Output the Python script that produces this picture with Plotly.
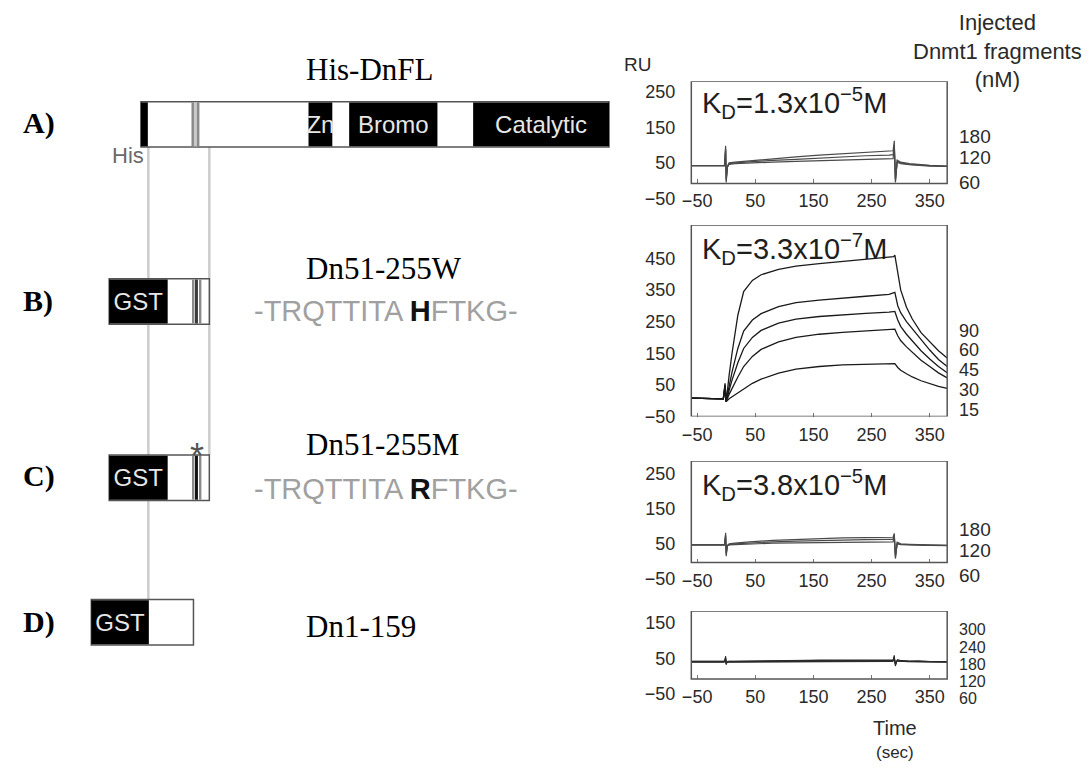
import plotly.graph_objects as go

W, H = 1090, 770
SANS = "Liberation Sans, Arial, Helvetica, sans-serif"
SERIF = "Liberation Serif, Times New Roman, serif"

# ---------------- SPR sensorgram data (RU vs time, s) ----------------
X_TICKS = [-50, 50, 150, 250, 350]

A_TIME = [-60, -20, -3, -1, 0, 2, 5, 15, 40, 80, 120, 160, 200, 240, 280, 287, 289, 291, 294, 300, 315, 330, 350, 380]
A_180 = [42, 42, 42, 98, -5, 40, 50, 52, 56, 62, 67, 72, 76, 80, 83, 84, 112, -5, 58, 52, 48, 45, 43, 41]
A_120 = [42, 42, 42, 90, 0, 38, 48, 50, 53, 57, 60, 64, 67, 70, 72, 73, 100, 0, 55, 50, 46, 44, 42, 40]
A_60 = [42, 42, 42, 85, 5, 38, 46, 48, 50, 52, 54, 56, 58, 60, 61, 62, 95, 5, 52, 48, 45, 43, 41, 40]
A_CONC = ["180", "120", "60"]

B_TIME = [-60, -30, -5, -2, 0, 5, 10, 20, 30, 45, 60, 90, 120, 160, 200, 240, 280, 288, 290, 295, 300, 310, 320, 335, 350, 365, 380]
B_90 = [8, 7, 6, 55, -3, 80, 150, 270, 345, 380, 398, 415, 425, 433, 440, 446, 452, 455, 460, 400, 350, 295, 258, 215, 185, 158, 135]
B_60 = [8, 7, 6, 50, -3, 45, 90, 165, 220, 255, 275, 297, 310, 318, 325, 330, 336, 340, 342, 300, 278, 250, 228, 192, 160, 130, 108]
B_45 = [8, 7, 6, 45, -3, 33, 65, 120, 165, 200, 222, 245, 258, 266, 272, 276, 280, 281, 282, 255, 235, 210, 188, 158, 132, 108, 88]
B_30 = [8, 7, 6, 40, -3, 20, 40, 75, 108, 140, 162, 186, 200, 210, 216, 220, 224, 225, 226, 205, 190, 170, 152, 128, 108, 88, 72]
B_15 = [8, 7, 6, 35, -3, 6, 12, 25, 38, 55, 68, 87, 100, 108, 113, 115, 116, 117, 117, 105, 96, 85, 75, 63, 53, 45, 39]
B_CONC = ["90", "60", "45", "30", "15"]

C_TIME = A_TIME
C_180 = [47, 47, 47, 82, 15, 45, 50, 52, 56, 60, 63, 65, 67, 68, 69, 69, 80, 8, 55, 50, 49, 48, 47, 46]
C_120 = [47, 47, 47, 75, 20, 45, 48, 50, 53, 56, 58, 60, 61, 62, 63, 63, 75, 12, 52, 49, 48, 47, 46, 46]
C_60 = [47, 47, 47, 70, 25, 45, 47, 48, 50, 52, 53, 54, 55, 56, 56, 56, 70, 18, 50, 48, 47, 46, 46, 45]
C_CONC = ["180", "120", "60"]

D_TIME = A_TIME
D_300 = [42, 42, 42, 56, 32, 41, 42, 42, 42, 43, 44, 45, 45, 45, 45, 45, 58, 28, 46, 44, 42, 43, 41, 41]
D_240 = [41, 41, 41, 52, 34, 40, 41, 41, 41, 42, 43, 44, 44, 44, 44, 44, 54, 30, 45, 43, 42, 42, 41, 40]
D_180 = [40, 40, 40, 50, 35, 40, 40, 40, 41, 41, 42, 43, 43, 43, 43, 43, 52, 32, 44, 42, 41, 41, 40, 40]
D_120 = [40, 40, 40, 48, 36, 39, 40, 40, 40, 41, 41, 42, 42, 42, 42, 42, 50, 34, 43, 41, 41, 40, 40, 40]
D_60 = [39, 39, 39, 46, 37, 39, 39, 39, 40, 40, 40, 41, 41, 41, 41, 41, 48, 35, 42, 41, 40, 40, 39, 39]
D_CONC = ["300", "240", "180", "120", "60"]

KD_TEXT = ["K<sub>D</sub>=1.3x10<sup>\u22125</sup>M", "K<sub>D</sub>=3.3x10<sup>\u22127</sup>M",
           "K<sub>D</sub>=3.8x10<sup>\u22125</sup>M", None]

# ---------------- domain diagram data (arbitrary residue-like units) ----------------
ROW_LABELS = ["A)", "B)", "C)", "D)"]
CONSTRUCT_NAMES = ["His-DnFL", "Dn51-255W", "Dn51-255M", "Dn1-159"]
CONSTRUCT_START = [0, -32, -32, -50]
CONSTRUCT_END = [472, 69, 69, 53]

SEG_CONSTRUCT = [0, 0, 0, 0, 0, 0, 0, 1, 1, 1, 1, 2, 2, 2, 2, 3]
SEG_START = [0, 51, 56.5, 169, 210, 335, 53.5, -32, 52, 55.5, 59, -32, 52, 55.5, 59, -50]
SEG_END = [7, 53.5, 59, 193, 299, 472, 56.5, 27, 54, 57.5, 61, 27, 54, 57.5, 61, 8]
SEG_KIND = ["tag", "motif", "motif", "domain", "domain", "domain", "light",
            "domain", "motif", "site", "motif", "domain", "motif", "mutant", "motif", "domain"]
SEG_LABEL = ["", "", "", "Zn", "Bromo", "Catalytic", "", "GST", "", "", "", "GST", "", "", "", "GST"]

SEQ_LEFT = "-TRQTTITA "
SEQ_RIGHT = "FTKG-"
SEQ_SITE = [None, "H", "R", None]

# ---------------- layout constants ----------------
def px_x(px):
    return px / W


def px_y(py):
    return 1 - py / H


KIND_COLOR = {"tag": "#000000", "domain": "#000000", "motif": "#8a8a8a",
              "light": "#c8c8c8", "site": "#3a3a3a", "mutant": "#111111"}
ROW_CENTER = [126, 305.5, 484, 630.5]
ROW_HEIGHT = 46

CHART_X = (688, 946)
CHARTS = [
    dict(top=82.2, bottom=201, rng=[-50, 280], frame=-8, ticks=[-50, 50, 150, 250],
         conc_y=[138, 160, 185], conc_size=19, kd_y=104),
    dict(top=228, bottom=422, rng=[-50, 555], frame=-50, ticks=[-50, 50, 150, 250, 350, 450],
         conc_y=[335, 355, 375, 395, 415], conc_size=18, kd_y=252),
    dict(top=467, bottom=586.5, rng=[-50, 287], frame=-3.5, ticks=[-50, 50, 150, 250],
         conc_y=[536, 558, 583], conc_size=19, kd_y=491),
    dict(top=619, bottom=703, rng=[-50, 183], frame=-8, ticks=[-50, 50, 150],
         conc_y=[638, 656, 673, 690, 708], conc_size=16, kd_y=None),
]
SERIES = [
    (A_TIME, [A_180, A_120, A_60], A_CONC, "#4a4a4a", 1.2),
    (B_TIME, [B_90, B_60, B_45, B_30, B_15], B_CONC, "#1a1a1a", 1.3),
    (C_TIME, [C_180, C_120, C_60], C_CONC, "#4a4a4a", 1.2),
    (D_TIME, [D_300, D_240, D_180, D_120, D_60], D_CONC, "#2a2a2a", 1.0),
]

fig = go.Figure()
layout = dict(
    width=W, height=H, margin=dict(l=0, r=0, t=0, b=0),
    paper_bgcolor="white", plot_bgcolor="rgba(0,0,0,0)",
    showlegend=False, barmode="overlay",
    font=dict(family=SANS, color="#222"),
)
shapes = []
annotations = []

for i, (ch, (t, curves, concs, col, lw)) in enumerate(zip(CHARTS, SERIES)):
    n = "" if i == 0 else str(i + 1)
    xa, ya = "x" + n, "y" + n
    for yv, c in zip(curves, concs):
        fig.add_trace(go.Scatter(x=t, y=yv, mode="lines", name=c + " nM",
                                 line=dict(color=col, width=lw), xaxis=xa, yaxis=ya,
                                 hoverinfo="skip"))
    y0p, y1p = px_y(ch["bottom"]), px_y(ch["top"])
    r0, r1 = ch["rng"]
    xpos = y0p + (ch["frame"] - r0) / (r1 - r0) * (y1p - y0p)
    layout["yaxis" + n] = dict(domain=[y0p, y1p], range=ch["rng"], tickvals=ch["ticks"],
                               showgrid=False, zeroline=False, showline=False, ticks="",
                               ticklabelstandoff=15, anchor=xa,
                               tickfont=dict(size=18, color="#2a2a2a", family=SANS))
    layout["xaxis" + n] = dict(domain=[px_x(CHART_X[0]), px_x(CHART_X[1])], range=[-60, 380],
                               tickvals=X_TICKS, anchor="free", position=xpos,
                               showgrid=False, zeroline=False, showline=False,
                               ticks="inside", ticklen=4, tickcolor="#777",
                               ticklabelstandoff=5,
                               tickfont=dict(size=18, color="#2a2a2a", family=SANS))
    shapes.append(dict(type="rect", xref=xa + " domain", yref=ya, x0=0, x1=1,
                       y0=ch["frame"], y1=r1, line=dict(color="#555", width=1.5)))
    for c, cy in zip(concs, ch["conc_y"]):
        annotations.append(dict(text=c, xref="paper", yref="paper", x=px_x(956), y=px_y(cy),
                                xanchor="left", yanchor="middle", showarrow=False,
                                font=dict(size=ch["conc_size"], color="#2a2a2a", family=SANS)))
    if KD_TEXT[i]:
        annotations.append(dict(text=KD_TEXT[i], xref="paper", yref="paper", x=px_x(697),
                                y=px_y(ch["kd_y"]), xanchor="left", yanchor="middle",
                                showarrow=False, font=dict(size=29, color="#1e1e1e", family=SANS)))

# ---------------- domain diagram ----------------
layout["xaxis5"] = dict(domain=[0, 620 / W], range=[-133, 487], visible=False, fixedrange=True)
layout["yaxis5"] = dict(domain=[0, 1], range=[H, 0], visible=False, anchor="x5", fixedrange=True)

fig.add_trace(go.Bar(
    orientation="h", y=[ROW_CENTER[k] for k in range(4)],
    x=[e - s for s, e in zip(CONSTRUCT_START, CONSTRUCT_END)], base=CONSTRUCT_START,
    width=ROW_HEIGHT, marker=dict(color="white", line=dict(color="#555", width=1.5)),
    xaxis="x5", yaxis="y5", hoverinfo="skip"))

for kind in ["light", "motif", "site", "mutant", "tag", "domain"]:
    idx = [j for j, k in enumerate(SEG_KIND) if k == kind]
    bar = dict(
        orientation="h", y=[ROW_CENTER[SEG_CONSTRUCT[j]] for j in idx],
        x=[SEG_END[j] - SEG_START[j] for j in idx], base=[SEG_START[j] for j in idx],
        width=ROW_HEIGHT - 1.5,
        marker=dict(color=KIND_COLOR[kind], line=dict(width=0)),
        xaxis="x5", yaxis="y5", hoverinfo="skip")
    if kind == "domain":
        bar.update(text=[SEG_LABEL[j] for j in idx], textposition="inside",
                   insidetextanchor="middle", constraintext="none", textangle=0,
                   insidetextfont=dict(color="#e6e6e6", size=24, family=SANS), cliponaxis=False)
    fig.add_trace(go.Bar(**bar))

# guide lines linking constructs
for u, ytop, ybot in [(7.5, 149, 608), (69, 149, 461)]:
    shapes.append(dict(type="line", xref="x5", yref="y5", x0=u, x1=u, y0=ytop, y1=ybot,
                       line=dict(color="#cdcdcd", width=2.5), layer="below"))

ROW_LABEL_Y = [125, 305, 482, 630]
NAME_Y = [70, 272, 450, 635]
SEQ_Y = [None, 315, 495, None]
for k in range(4):
    annotations.append(dict(text="<b>" + ROW_LABELS[k] + "</b>", xref="paper", yref="paper",
                            x=px_x(12), y=px_y(ROW_LABEL_Y[k]), xanchor="left", yanchor="middle",
                            showarrow=False, font=dict(size=30, color="black", family=SERIF)))
    annotations.append(dict(text=CONSTRUCT_NAMES[k], xref="paper", yref="paper",
                            x=px_x(297), y=px_y(NAME_Y[k]), xanchor="left", yanchor="middle",
                            showarrow=False, font=dict(size=31, color="black", family=SERIF)))
    if SEQ_SITE[k]:
        annotations.append(dict(
            text=SEQ_LEFT + "<span style='color:#111'><b>" + SEQ_SITE[k] + "</b></span>" + SEQ_RIGHT,
            xref="paper", yref="paper", x=px_x(245), y=px_y(SEQ_Y[k]), xanchor="left",
            yanchor="middle", showarrow=False,
            font=dict(size=29, color="#a0a0a0", family=SANS)))

annotations += [
    dict(text="His", xref="paper", yref="paper", x=px_x(120), y=px_y(158), xanchor="center",
         yanchor="middle", showarrow=False, font=dict(size=22, color="#6a6a6a", family=SANS)),
    dict(text="*", xref="paper", yref="paper", x=px_x(190), y=px_y(462), xanchor="center",
         yanchor="middle", showarrow=False, font=dict(size=36, color="#555", family=SANS)),
    dict(text="RU", xref="paper", yref="paper", x=px_x(634), y=px_y(65), xanchor="center",
         yanchor="middle", showarrow=False, font=dict(size=19, color="#2a2a2a", family=SANS)),
    dict(text="Injected<br>Dnmt1 fragments<br>(nM)", xref="paper", yref="paper", x=px_x(997),
         y=px_y(52), xanchor="center", yanchor="middle", align="center", showarrow=False,
         font=dict(size=22, color="#2a2a2a", family=SANS)),
    dict(text="Time", xref="paper", yref="paper", x=px_x(893), y=px_y(738), xanchor="center",
         yanchor="middle", showarrow=False, font=dict(size=20, color="#2a2a2a", family=SANS)),
    dict(text="(sec)", xref="paper", yref="paper", x=px_x(893), y=px_y(762), xanchor="center",
         yanchor="middle", showarrow=False, font=dict(size=17, color="#2a2a2a", family=SANS)),
]

layout["shapes"] = shapes
layout["annotations"] = annotations
fig.update_layout(**layout)

fig.write_html("out.html", config={"displayModeBar": False},
               post_script="document.body.style.margin='0';document.body.style.overflow='hidden';")
